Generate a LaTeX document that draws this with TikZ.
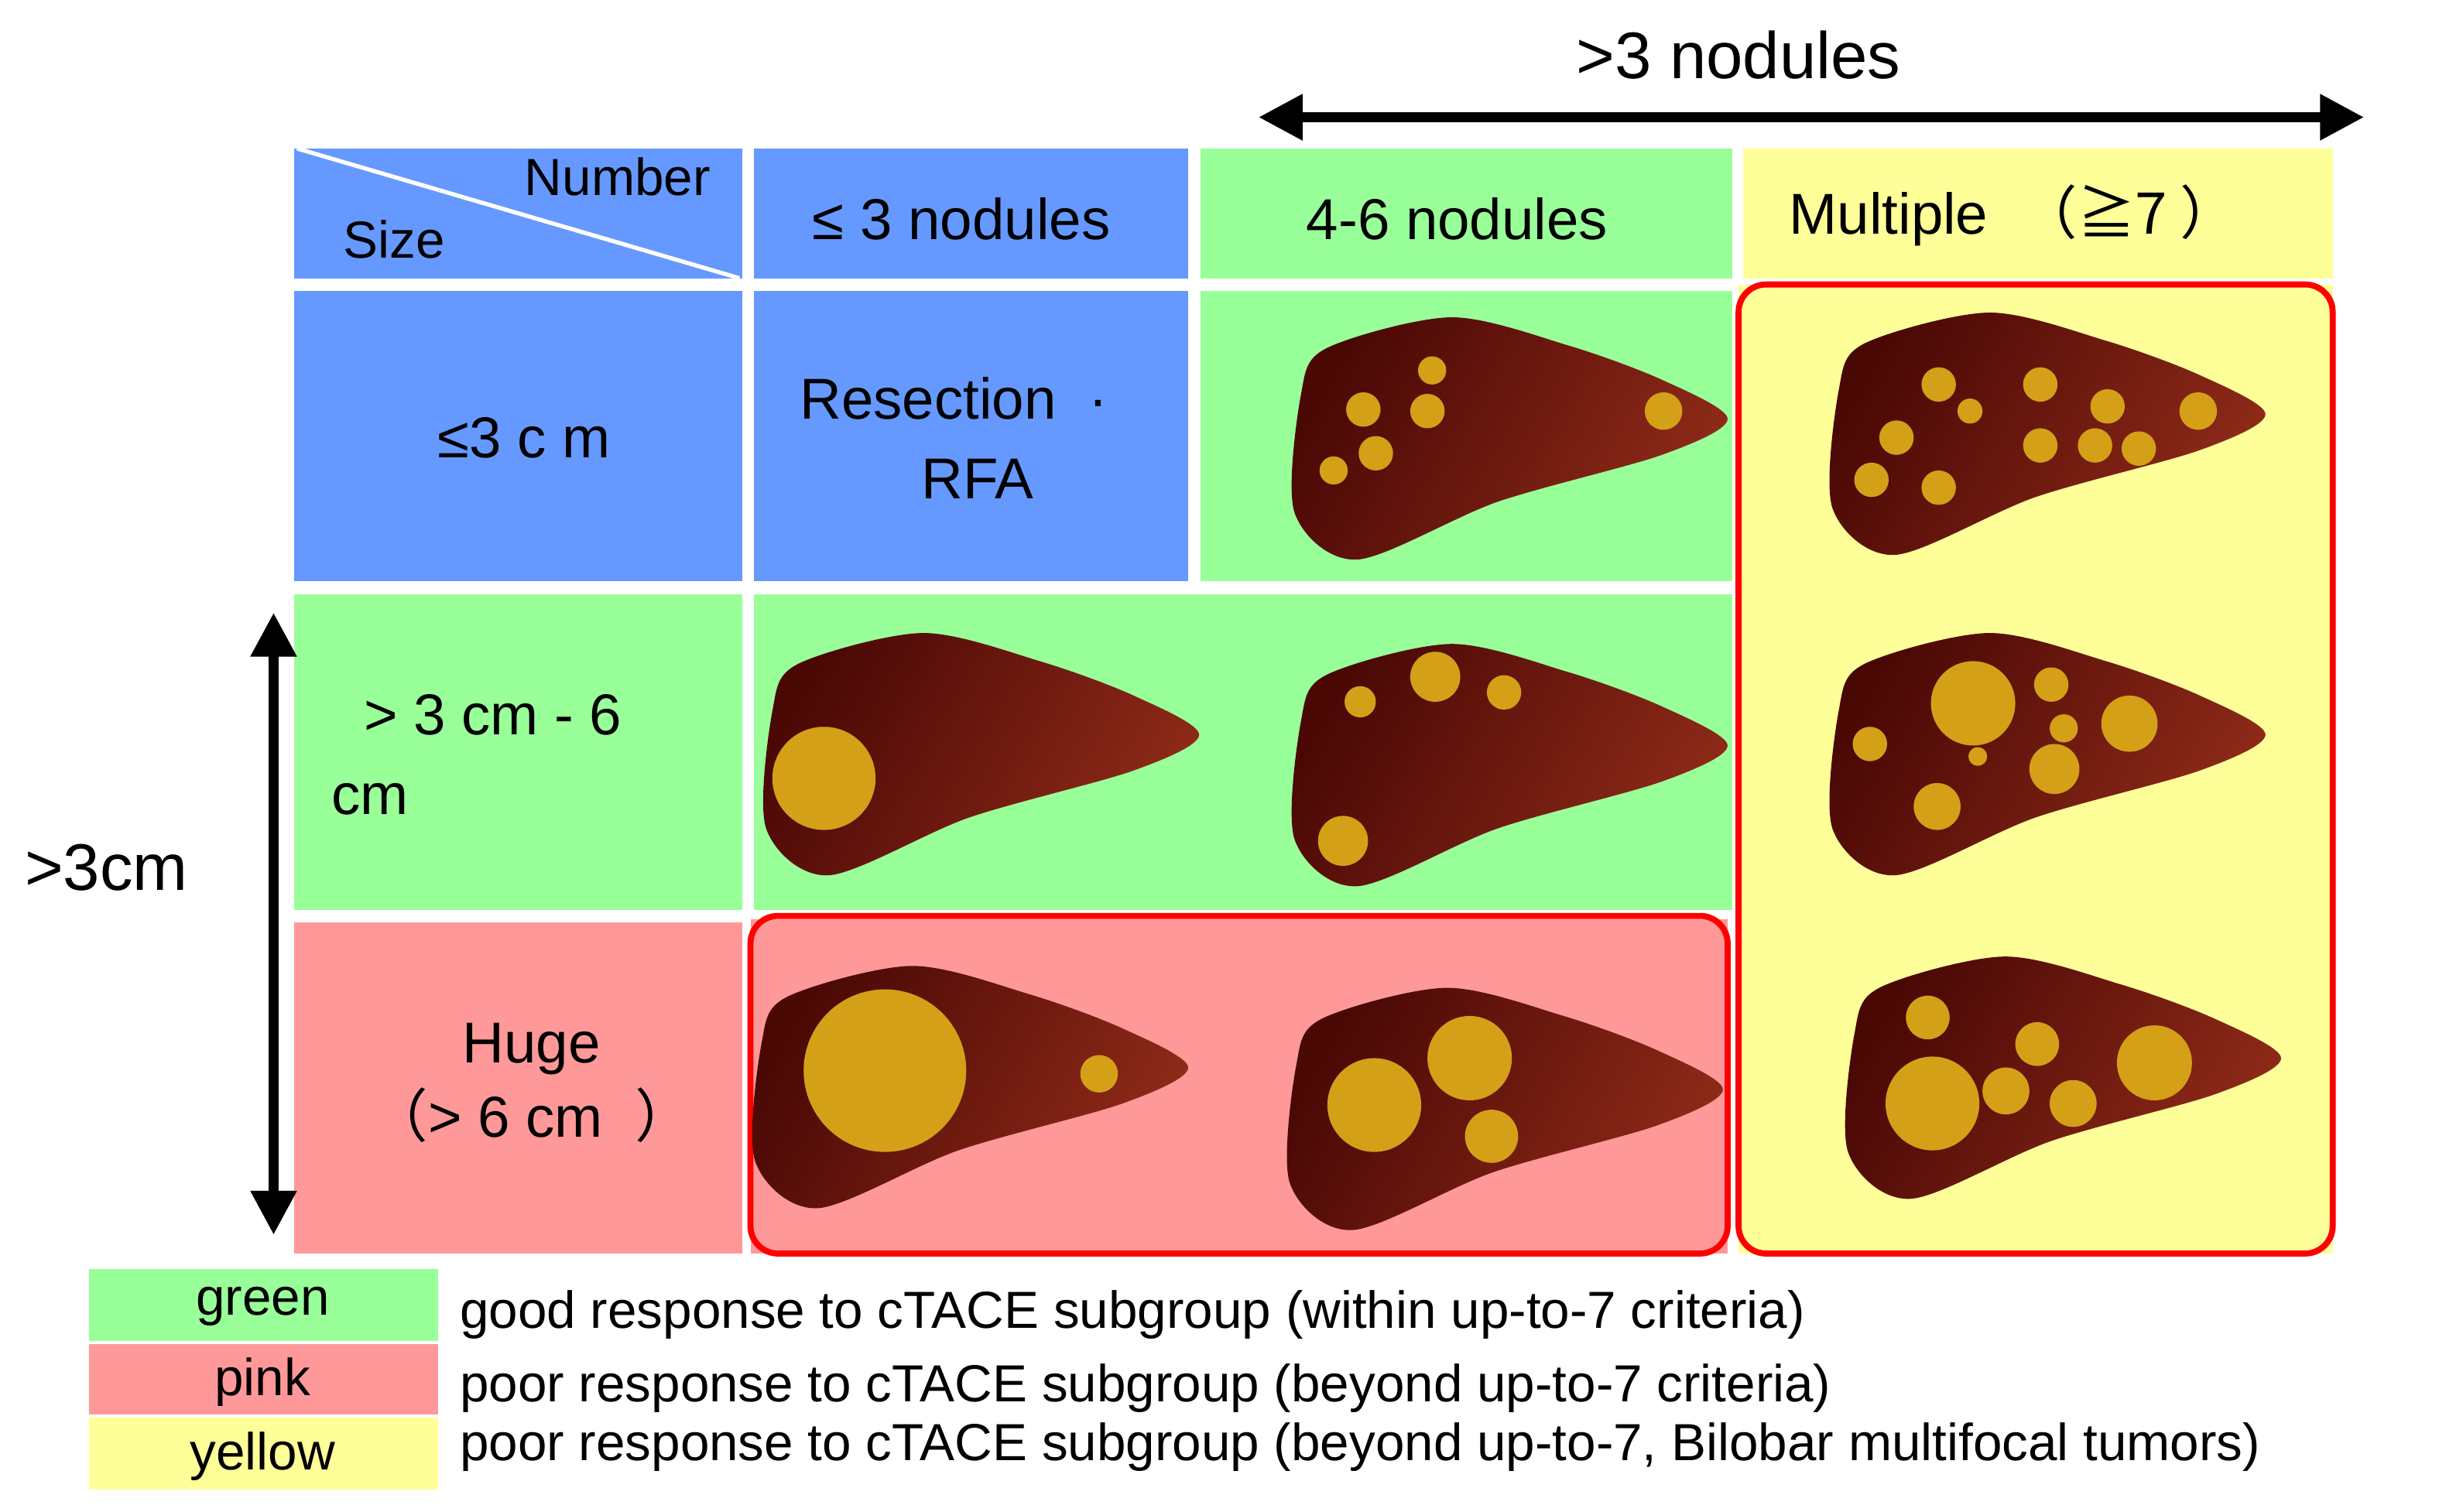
\documentclass[tikz,border=0pt]{standalone}
\usepackage{fontspec}
\setmainfont{Liberation Sans}
\newfontfamily\cjk{Noto Sans CJK SC}
\usetikzlibrary{arrows.meta}
\definecolor{cblue}{HTML}{6699FF}
\definecolor{cgreen}{HTML}{99FF99}
\definecolor{cpink}{HTML}{FF9999}
\definecolor{cyel}{HTML}{FFFF99}
\definecolor{spot}{HTML}{D4A017}
\definecolor{livA}{HTML}{4A0805}
\definecolor{livB}{HTML}{8E2A18}
\tikzset{
 cell/.style={draw=none,inner sep=0pt},
 lbl/.style={font=\fontsize{21}{25}\selectfont,align=center},
 leg/.style={font=\fontsize{19}{22}\selectfont,anchor=west},
 frame/.style={draw=red,line width=2.2pt,rounded corners=10pt},
 arr/.style={line width=3.5pt,{Triangle[length=16pt,width=16pt]}-{Triangle[length=16pt,width=16pt]}},
 pics/liver/.style={code={
   \shade[left color=livA,right color=livB,shading angle=60]
     plot[smooth cycle,tension=0.5] coordinates{(20,20) (100,0) (175,18) (235,40) (277,65) (235,88) (130,118) (40,155) (0,125) (4,50)};
 }}
}
\newcommand{\spt}[3]{\fill[spot] (#1,#2) circle (#3);}
\begin{document}
\begin{tikzpicture}[x=0.02cm,y=-0.02cm]
\useasboundingbox (0,0) rectangle (1560,967);
% header
\fill[cblue] (188,95) rectangle (475,178);
\fill[cblue] (482,95) rectangle (760,178);
\fill[cgreen] (768,95) rectangle (1108,178);
\fill[cyel] (1115,95) rectangle (1492,178);
\draw[white,line width=1.5pt] (190,95) -- (473,178);
\node[lbl,font=\fontsize{19}{22}\selectfont] (num) at (395,113) {Number};
\node[lbl,font=\fontsize{19}{22}\selectfont] (sz) at (252,153) {Size};
\node[lbl] (h1) at (615,140) {≤ 3 nodules};
\node[lbl] (h2) at (932,140) {4-6 nodules};
\node[lbl] (h3) at (1288,138) {Multiple \ {\cjk （≧7 ）}};
% row1
\fill[cblue] (188,186) rectangle (475,372);
\fill[cblue] (482,186) rectangle (760,372);
\fill[cgreen] (768,186) rectangle (1108,372);
\fill[cyel] (1112,182) rectangle (1492,802);
\node[lbl] (r1) at (335,280) {≤3 c m};
\node[lbl] (res) at (610,280) {Resection \ ·\\[4pt] \ \ \ RFA};
% row2
\fill[cgreen] (188,380) rectangle (475,582);
\fill[cgreen] (482,380) rectangle (1108,582);
\node[lbl,align=left] (r2) at (305,483) {\ \ > 3 cm - 6\\[4pt]cm};
% row3
\fill[cpink] (188,590) rectangle (475,802);
\fill[cpink] (480,588) rectangle (1105,802);
\node[lbl] (r3) at (340,693) {Huge\\[2pt]{\cjk （}> 6 cm \ {\cjk ）}};
\draw[frame] (480,586) rectangle (1105,802);
\draw[frame] (1112,182) rectangle (1492,802);
% arrows
\coordinate (ta) at (805,75); \coordinate (tb) at (1512,75);
\draw[arr] (ta) -- (tb);
\node[font=\fontsize{24}{28}\selectfont] (n3) at (1112,35) {>3 nodules};
\coordinate (la) at (175,392); \coordinate (lb) at (175,790);
\draw[arr] (la) -- (lb);
\node[font=\fontsize{24}{28}\selectfont] (c3) at (68,555) {>3cm};
% livers
\pic at (828,203) {liver}; \pic at (1172,200) {liver};
\pic at (490,405) {liver}; \pic at (828,412) {liver}; \pic at (1172,405) {liver};
\pic at (483,618) {liver}; \pic at (825,632) {liver}; \pic at (1182,612) {liver};
% spots
\spt{916}{237}{9}\spt{872}{262}{11}\spt{913}{263}{11}\spt{880}{290}{11}\spt{853}{301}{9}\spt{1064}{263}{12}
\spt{1240}{246}{11}\spt{1260}{263}{8}\spt{1305}{246}{11}\spt{1348}{260}{11}\spt{1406}{263}{12}\spt{1213}{280}{11}\spt{1305}{285}{11}\spt{1340}{285}{11}\spt{1368}{287}{11}\spt{1197}{307}{11}\spt{1240}{312}{11}
\spt{527}{498}{33}
\spt{918}{433}{16}\spt{870}{449}{10}\spt{962}{443}{11}\spt{859}{538}{16}
\spt{1262}{450}{27}\spt{1312}{438}{11}\spt{1196}{476}{11}\spt{1320}{466}{9}\spt{1362}{463}{18}\spt{1265}{484}{6}\spt{1314}{492}{16}\spt{1239}{516}{15}
\spt{566}{685}{52}\spt{703}{687}{12}
\spt{940}{677}{27}\spt{879}{707}{30}\spt{954}{727}{17}
\spt{1233}{651}{14}\spt{1303}{668}{14}\spt{1378}{680}{24}\spt{1283}{698}{15}\spt{1236}{706}{30}\spt{1326}{706}{15}
% legend
\fill[cgreen] (57,812) rectangle (280,858);
\fill[cpink] (57,860) rectangle (280,905);
\fill[cyel] (57,907) rectangle (280,953);
\node[font=\fontsize{19}{22}\selectfont] (lg) at (168,836) {green};
\node[font=\fontsize{19}{22}\selectfont] (lp) at (168,884) {pink};
\node[font=\fontsize{19}{22}\selectfont] (ly) at (168,932) {yellow};
\node[leg] (t1) at (288,841) {good response to cTACE subgroup (within up-to-7 criteria)};
\node[leg] (t2) at (288,888) {poor response to cTACE subgroup (beyond up-to-7 criteria)};
\node[leg] (t3) at (288,926) {poor response to cTACE subgroup (beyond up-to-7, Bilobar multifocal tumors)};
\end{tikzpicture}
\end{document}
